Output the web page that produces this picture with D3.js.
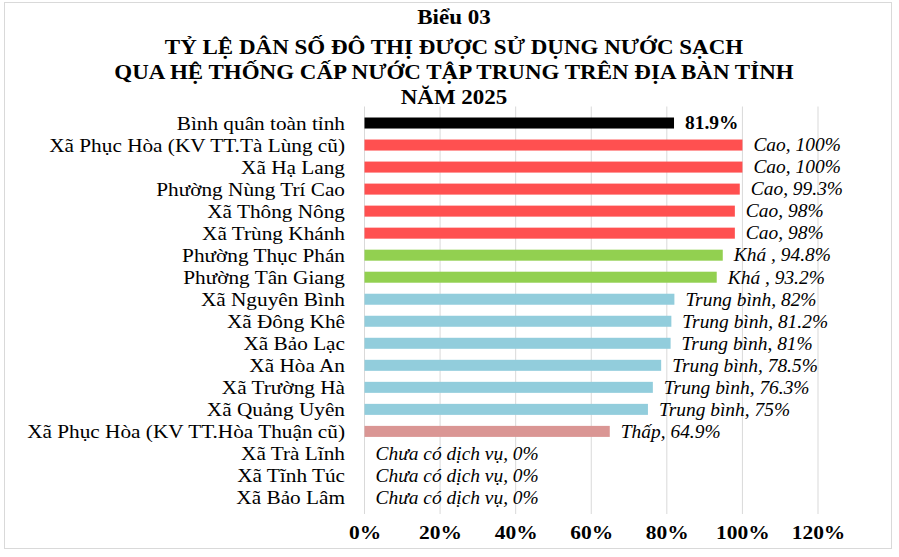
<!DOCTYPE html>
<meta charset="utf-8">
<script src="https://d3js.org/d3.v7.min.js"></script>
<style>
  body { margin: 0; background: #fff; }
  text { font-family: "Liberation Serif", "Times New Roman", serif; }
</style>
<body>
<div id="my_dataviz"></div>
<script>

  // data
  const categories = ["Bình quân toàn tỉnh", "Xã Phục Hòa (KV TT.Tà Lùng cũ)", "Xã Hạ Lang",
    "Phường Nùng Trí Cao", "Xã Thông Nông", "Xã Trùng Khánh", "Phường Thục Phán",
    "Phường Tân Giang", "Xã Nguyên Bình", "Xã Đông Khê", "Xã Bảo Lạc", "Xã Hòa An",
    "Xã Trường Hà", "Xã Quảng Uyên", "Xã Phục Hòa (KV TT.Hòa Thuận cũ)", "Xã Trà Lĩnh",
    "Xã Tĩnh Túc", "Xã Bảo Lâm"];
  const values = [81.9, 100, 100, 99.3, 98, 98, 94.8, 93.2, 82, 81.2, 81, 78.5, 76.3, 75, 64.9, 0, 0, 0];
  const levels = ["", "Cao", "Cao", "Cao", "Cao", "Cao", "Khá ", "Khá ",
    "Trung bình", "Trung bình", "Trung bình", "Trung bình", "Trung bình", "Trung bình",
    "Thấp", "Chưa có dịch vụ", "Chưa có dịch vụ", "Chưa có dịch vụ"];
  const tickValues = [0, 20, 40, 60, 80, 100, 120];
  const titleLines = ["Biểu 03", "TỶ LỆ DÂN SỐ ĐÔ THỊ ĐƯỢC SỬ DỤNG NƯỚC SẠCH",
    "QUA HỆ THỐNG CẤP NƯỚC TẬP TRUNG TRÊN ĐỊA BÀN TỈNH", "NĂM 2025"];

  const W = 899, H = 557;
  const plot = {left: 364.5, right: 818, top: 106.5, bottom: 514};
  // the original picture is a bit stretched sideways, so texts get a wider x scale
  const stretch = 1.15;

  const svg = d3.select("#my_dataviz")
    .append("svg")
    .attr("width", W)
    .attr("height", H);

  // outer frame
  svg.append("rect")
    .attr("x", 4.5).attr("y", 2.5)
    .attr("width", 887).attr("height", 546)
    .attr("fill", "white")
    .attr("stroke", "#d9d9d9");

  // title
  svg.append("g")
    .selectAll("text")
    .data(titleLines)
    .join("text")
      .attr("transform", (d, i) => `translate(454, ${i == 0 ? 24 : 29 + i * 25}) scale(${stretch},1)`)
      .attr("text-anchor", "middle")
      .style("font-weight", "bold")
      .style("font-size", "20px")
      .text(d => d);

  // scales
  const x = d3.scaleLinear().domain([0, 120]).range([plot.left, plot.right]);
  const y = d3.scaleBand().domain(categories).range([plot.top, plot.bottom]).padding(0.5);

  const color = d3.scaleOrdinal()
    .domain(["", "Cao", "Khá ", "Trung bình", "Thấp", "Chưa có dịch vụ"])
    .range(["#000000", "#ff5050", "#92d050", "#92cddc", "#da9694", "#ffffff"]);

  // gridlines
  svg.append("g")
    .selectAll("line")
    .data(tickValues)
    .join("line")
      .attr("x1", d => x(d)).attr("x2", d => x(d))
      .attr("y1", plot.top).attr("y2", plot.bottom)
      .attr("stroke", "#d9d9d9")
      .attr("stroke-width", 1);

  // x axis labels
  const xAxis = svg.append("g")
    .attr("transform", `translate(0, ${plot.bottom})`)
    .call(d3.axisBottom(x).tickValues(tickValues).tickFormat(d => d + "%").tickSize(0).tickPadding(12));
  xAxis.select(".domain").remove();
  xAxis.selectAll("text")
    .attr("transform", `scale(1.13,1)`)
    .style("font-family", "'Liberation Serif', 'Times New Roman', serif")
    .style("font-size", "19px")
    .style("font-weight", "bold")
    .attr("fill", "#000");

  // category labels
  svg.append("g")
    .selectAll("text")
    .data(categories)
    .join("text")
      .attr("transform", d => `translate(345, ${y(d) + y.bandwidth() / 2}) scale(${stretch},1)`)
      .attr("dy", "0.35em")
      .attr("text-anchor", "end")
      .style("font-size", "18.5px")
      .text(d => d);

  // bars
  svg.append("g")
    .selectAll("rect")
    .data(values)
    .join("rect")
      .attr("x", x(0))
      .attr("y", (d, i) => y(categories[i]))
      .attr("width", d => x(d) - x(0))
      .attr("height", y.bandwidth())
      .attr("fill", (d, i) => color(levels[i]));

  // value labels
  svg.append("g")
    .selectAll("text")
    .data(values)
    .join("text")
      .attr("transform", (d, i) => `translate(${x(d) + 11}, ${y(categories[i]) + y.bandwidth() / 2}) scale(1.08,1)`)
      .attr("dy", "0.35em")
      .style("font-size", "18px")
      .style("font-style", (d, i) => i == 0 ? "normal" : "italic")
      .style("font-weight", (d, i) => i == 0 ? "bold" : "normal")
      .text((d, i) => i == 0 ? d + "%" : levels[i] + ", " + d + "%");

</script>
</body>
